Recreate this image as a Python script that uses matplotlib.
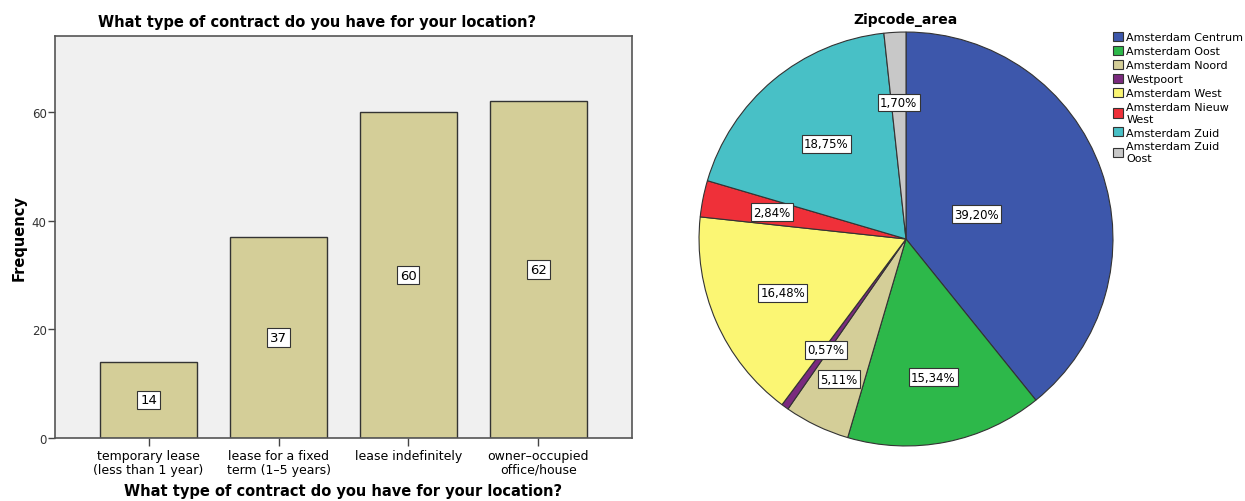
import numpy as np
import matplotlib
matplotlib.use("Agg")
from matplotlib import pyplot as plt
from matplotlib.patches import Patch

# bar chart data
contract_types = [
    "temporary lease\n(less than 1 year)",
    "lease for a fixed\nterm (1\u20135 years)",
    "lease indefinitely",
    "owner\u2013occupied\noffice/house",
]
contract_counts = [14, 37, 60, 62]

# pie chart data
areas = [
    "Amsterdam Centrum", "Amsterdam Oost", "Amsterdam Noord", "Westpoort",
    "Amsterdam West", "Amsterdam Nieuw\nWest", "Amsterdam Zuid",
    "Amsterdam Zuid\nOost",
]
area_counts = [69, 27, 9, 1, 29, 5, 33, 3]
area_colors = ["#3D57AB", "#2DB84A", "#D4CE98", "#7A2A7E",
               "#FBF673", "#EF3039", "#48C0C6", "#C8C8C8"]

BAR_COLOR = "#D4CE98"
BG = "#F0F0F0"
EDGE = "#333333"
BOX = dict(boxstyle="square,pad=0.2", fc="white", ec="#333333", lw=0.8)

plt.rcParams["font.family"] = "DejaVu Sans"

fig = plt.figure(figsize=(12.45, 5.02), dpi=100)

# --- bar chart ---
ax = fig.add_axes([55 / 1245, 63 / 502, 577 / 1245, 402 / 502])
ax.set_facecolor(BG)
x = np.arange(len(contract_counts))
ax.bar(x, contract_counts, width=0.75, color=BAR_COLOR,
       edgecolor=EDGE, linewidth=1.0, zorder=2)
for xi, v in zip(x, contract_counts):
    ax.text(xi, v / 2, str(v), ha="center", va="center", fontsize=9.5,
            bbox=BOX, zorder=3)
ax.set_xlim(-0.72, 3.72)
ax.set_ylim(0, 74)
ax.set_yticks([0, 20, 40, 60])
ax.set_xticks(x)
ax.set_xticklabels(contract_types, fontsize=9, linespacing=1.05)
ax.tick_params(axis="y", labelsize=8.5, length=5, width=1, color="#444444",
               labelcolor="#333333", pad=1)
ax.tick_params(axis="x", length=6, width=1, color="#444444", pad=2)
for s in ax.spines.values():
    s.set_color("#555555")
    s.set_linewidth(1.2)
fig.text(317 / 1245, 1 - 22 / 502,
         "What type of contract do you have for your location?",
         ha="center", va="center", fontsize=10.5, fontweight="bold")
ax.set_xlabel("What type of contract do you have for your location?",
              fontsize=10.5, fontweight="bold", labelpad=5)
ax.set_ylabel("Frequency", fontsize=10.5, fontweight="bold", labelpad=4)

# --- pie chart ---
pax = fig.add_axes([698 / 1245, 54 / 502, 416 / 1245, 416 / 502])
wedges, _ = pax.pie(area_counts, colors=area_colors, startangle=90,
                    counterclock=False, radius=1,
                    wedgeprops=dict(edgecolor=EDGE, linewidth=0.8))
pax.set_xlim(-1.005, 1.005)
pax.set_ylim(-1.005, 1.005)

label_r = [0.36, 0.68, 0.75, 0.66, 0.65, 0.66, 0.6, 0.66]
total = sum(area_counts)
for w, n, r in zip(wedges, area_counts, label_r):
    ang = np.deg2rad((w.theta1 + w.theta2) / 2)
    pct = f"{100 * n / total:.2f}%".replace(".", ",")
    pax.text(r * np.cos(ang), r * np.sin(ang), pct, ha="center",
             va="center", fontsize=8.5, bbox=BOX)

fig.text(906 / 1245, 1 - 20 / 502, "Zipcode_area", ha="center",
         va="center", fontsize=10, fontweight="bold")

handles = [Patch(facecolor=c, edgecolor=EDGE, linewidth=0.8)
           for c in area_colors]
fig.legend(handles, areas, loc="upper left",
           bbox_to_anchor=(1113 / 1245, 1 - 33 / 502), frameon=False,
           fontsize=8, handlelength=0.9, handleheight=0.9,
           handletextpad=0.3, labelspacing=0.32, borderpad=0,
           borderaxespad=0)

fig.savefig("out.png", dpi=100, facecolor="white")
